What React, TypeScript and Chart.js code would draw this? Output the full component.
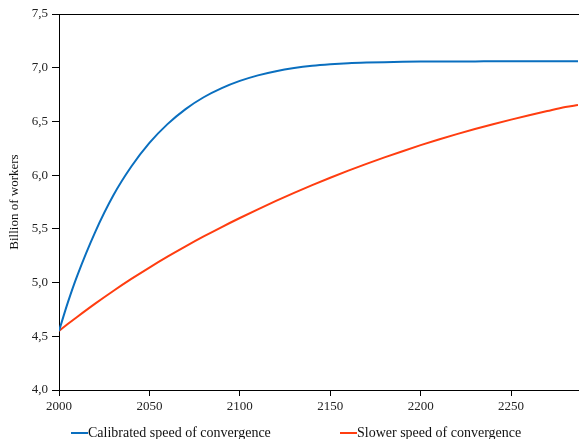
import React, { useEffect, useRef } from "react";
import { Chart, registerables } from "chart.js";

Chart.register(...registerables);

const years = [
  2000, 2005, 2010, 2020, 2030, 2040, 2050, 2060, 2070, 2080, 2090, 2100, 2110, 2120, 2130, 2140,
  2150, 2160, 2170, 2180, 2190, 2200, 2210, 2220, 2230, 2240, 2250, 2260, 2270, 2280, 2287,
];

const calibrated = [
  4.55, 4.82, 5.06, 5.47, 5.81, 6.08, 6.3, 6.475, 6.615, 6.725, 6.81, 6.877, 6.929, 6.968, 6.997, 7.018,
  7.032, 7.042, 7.048, 7.052, 7.055, 7.057, 7.058, 7.059, 7.059, 7.06, 7.06, 7.06, 7.06, 7.06, 7.06,
];

const slower = [
  4.55, 4.616, 4.68, 4.804, 4.922, 5.034, 5.14, 5.241, 5.337, 5.429, 5.517, 5.601, 5.682, 5.76, 5.835, 5.907,
  5.976, 6.042, 6.105, 6.165, 6.223, 6.279, 6.332, 6.382, 6.429, 6.474, 6.517, 6.558, 6.597, 6.634, 6.652,
];

const seriesLabels = ["Calibrated speed of convergence", "Slower speed of convergence"];
const seriesColors = ["#0A6FBF", "#FF3D10"];
const yTitle = "Billion of workers";

const FONT = "'Liberation Serif', 'DejaVu Serif', serif";

export default function App() {
  const canvasRef = useRef<HTMLCanvasElement | null>(null);

  useEffect(() => {
    if (!canvasRef.current) return;
    const topBorder = {
      id: "topBorder",
      afterDraw(chart: any) {
        const { ctx, chartArea } = chart;
        ctx.save();
        ctx.strokeStyle = "#000";
        ctx.lineWidth = 1;
        ctx.beginPath();
        ctx.moveTo(chartArea.left, chartArea.top + 0.5);
        ctx.lineTo(chartArea.right + 1, chartArea.top + 0.5);
        ctx.stroke();
        ctx.restore();
      },
    };
    const chart = new Chart(canvasRef.current, {
      type: "line",
      data: {
        datasets: [calibrated, slower].map((vals, i) => ({
          label: seriesLabels[i],
          data: years.map((x, j) => ({ x, y: vals[j] })),
          borderColor: seriesColors[i],
          backgroundColor: seriesColors[i],
          borderWidth: 2,
          pointRadius: 0,
          cubicInterpolationMode: "monotone" as const,
          fill: false,
        })),
      },
      options: {
        animation: false,
        responsive: true,
        maintainAspectRatio: false,
        layout: { padding: { top: 14, right: 1, bottom: 23, left: 0 } },
        plugins: {
          legend: { display: false },
          tooltip: { enabled: false },
        },
        scales: {
          x: {
            type: "linear",
            min: 2000,
            max: 2287,
            afterFit: (scale: any) => {
              scale.height = 26;
            },
            border: { display: true, color: "#000", width: 1 },
            grid: {
              drawOnChartArea: false,
              drawTicks: true,
              tickLength: 6,
              tickColor: "#000",
            },
            ticks: {
              stepSize: 50,
              includeBounds: false,
              padding: 3,
              color: "#222",
              font: { family: FONT, size: 13 },
              callback: (v: any) => String(v),
              maxRotation: 0,
            },
          },
          y: {
            min: 4,
            max: 7.5,
            afterFit: (scale: any) => {
              scale.width = 59;
            },
            border: { display: true, color: "#000", width: 1 },
            grid: {
              drawOnChartArea: false,
              drawTicks: true,
              tickLength: 7,
              tickColor: "#000",
            },
            ticks: {
              stepSize: 0.5,
              padding: 4,
              color: "#222",
              font: { family: FONT, size: 13 },
              callback: (v: any) => Number(v).toFixed(1).replace(".", ","),
            },
            title: {
              display: true,
              text: yTitle,
              color: "#111",
              font: { family: FONT, size: 13 },
              padding: { top: 7, bottom: 0 },
            },
          },
        },
      },
      plugins: [topBorder],
    });
    return () => chart.destroy();
  }, []);

  return (
    <div style={{ position: "fixed", left: 0, top: 0, width: 579, height: 439, background: "#fff" }}>
      <canvas ref={canvasRef} />
      <div
        style={{
          position: "absolute",
          left: 71,
          top: 424,
          display: "flex",
          alignItems: "center",
          fontFamily: FONT,
          fontSize: 14,
          color: "#111",
          lineHeight: "17px",
          whiteSpace: "nowrap",
        }}
      >
        {seriesLabels.map((lab, i) => (
          <div
            key={lab}
            style={{ display: "flex", alignItems: "center", width: i === 0 ? 269 : undefined }}
          >
            <span style={{ display: "inline-block", width: 17, height: 2, background: seriesColors[i] }} />
            <span>{lab}</span>
          </div>
        ))}
      </div>
    </div>
  );
}
